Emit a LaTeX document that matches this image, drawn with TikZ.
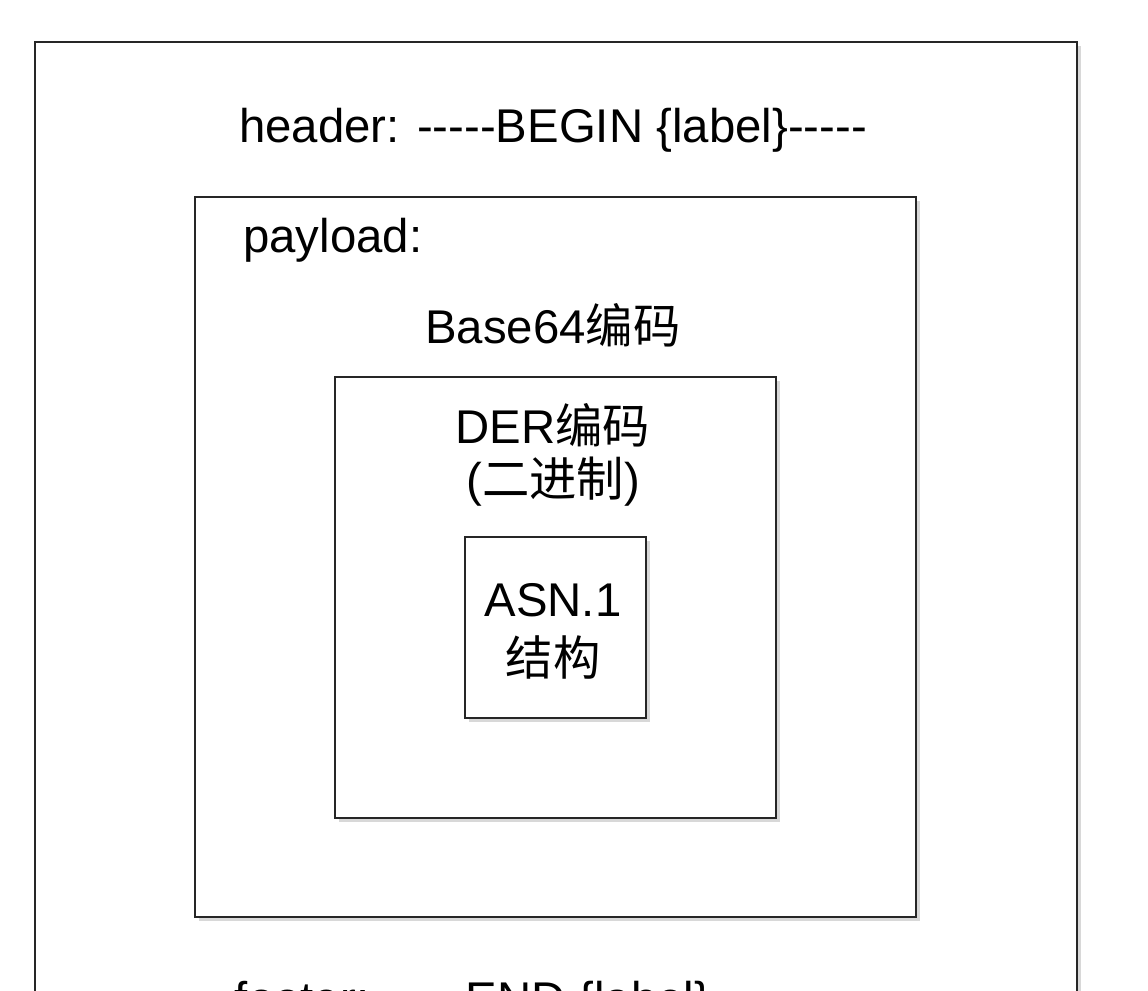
\documentclass[tikz,border=0pt]{standalone}
\usepackage{fontspec}
\setmainfont{Liberation Sans}
\newfontfamily\cjk{Noto Sans CJK SC}
\usetikzlibrary{shadows}
\newcommand{\dashes}{-{}-{}-{}-{}-}
\begin{document}
\begin{tikzpicture}[x=0.75pt,y=-0.75pt,
  box/.style={draw=black!85,line width=1.6pt,fill=white,drop shadow={shadow xshift=3pt,shadow yshift=-3pt,fill=black!25,opacity=0.6}},
  txt/.style={font=\fontsize{35.5}{42}\selectfont,inner sep=0pt}]
\path[use as bounding box,fill=white] (0,0) rectangle (1148,991);
\begin{scope}
\clip (0,0) rectangle (1148,991);
\draw[box] (35,42) rectangle (1077,1040);
\draw[box] (195,197) rectangle (916,917);
\draw[box] (335,377) rectangle (776,818);
\draw[box] (465,537) rectangle (646,718);
\node[txt] (header) at (553,130) {header: \dashes BEGIN \{label\}\dashes};
\node[txt,anchor=west] (payload) at (243,240) {payload:};
\node[txt] (b64) at (553,325) {Base64{\cjk 编码}};
\node[txt] (der) at (553,425) {DER{\cjk 编码}};
\node[txt] (bin) at (553,482) {({\cjk 二进制})};
\node[txt] (asn) at (553,600) {ASN.1};
\node[txt] (st) at (553,658) {\cjk 结构};
\node[txt] (footer) at (512,1003) {footer: \dashes END \{label\}\dashes};
\end{scope}
\end{tikzpicture}
\end{document}
